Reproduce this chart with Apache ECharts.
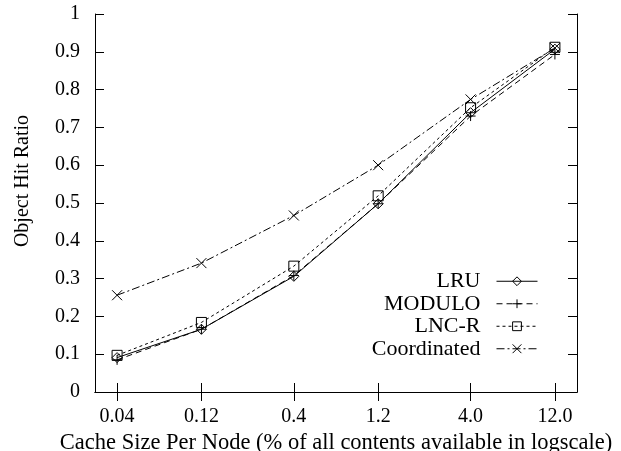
<!DOCTYPE html>
<html>
<head>
<meta charset="utf-8">
<script src="https://cdn.jsdelivr.net/npm/echarts@6/dist/echarts.min.js"></script>
<style>
html,body{margin:0;padding:0;background:#fff;}
#chart{width:621px;height:451px;}
</style>
</head>
<body>
<div id="chart"></div>
<script>
// Data
var xValues = [0.04, 0.12, 0.4, 1.2, 4.0, 12.0];
var xTickLabels = ['0.04', '0.12', '0.4', '1.2', '4.0', '12.0'];
var seriesNames = ['LRU', 'MODULO', 'LNC-R', 'Coordinated'];
var lruValues = [0.091, 0.166, 0.306, 0.498, 0.739, 0.907];
var moduloValues = [0.085, 0.166, 0.308, 0.498, 0.730, 0.893];
var lncrValues = [0.097, 0.184, 0.333, 0.519, 0.752, 0.912];
var coordinatedValues = [0.256, 0.341, 0.467, 0.600, 0.774, 0.910];
var xTitle = 'Cache Size Per Node (% of all contents available in logscale)';
var yTitle = 'Object Hit Ratio';

var FONT = 'Liberation Serif';

function pairs(vals) {
  return xValues.map(function (x, i) { return [x, vals[i]]; });
}
function fmtX(v) {
  var best = 0, bd = Infinity;
  for (var i = 0; i < xValues.length; i++) {
    var d = Math.abs(Math.log(v) - Math.log(xValues[i]));
    if (d < bd) { bd = d; best = i; }
  }
  return xTickLabels[best];
}

var plusPath = 'path://M5,0L5,10M0,5L10,5';
var crossPath = 'path://M0,0L10,10M10,0L0,10';

function mkSeries(name, vals, symbol, size, dash) {
  return {
    name: name,
    type: 'line',
    data: pairs(vals),
    symbol: symbol,
    symbolSize: size,
    showAllSymbol: true,
    silent: true,
    animation: false,
    lineStyle: { color: '#000', width: 1, type: dash },
    itemStyle: { color: 'rgba(255,255,255,0)', borderColor: '#000', borderWidth: 1 },
    emphasis: { disabled: true }
  };
}

var chart = echarts.init(document.getElementById('chart'), null, { renderer: 'canvas' });

var tickCommon = { show: true, inside: true, length: 9, lineStyle: { color: '#000', width: 1 } };

chart.setOption({
  animation: false,
  backgroundColor: '#fff',
  textStyle: { fontFamily: FONT, color: '#000' },
  grid: { left: 95, right: 44, top: 14, bottom: 59, containLabel: false, outerBoundsMode: 'none' },
  legend: {
    orient: 'vertical',
    align: 'right',
    right: 78,
    top: 265,
    itemWidth: 41,
    itemHeight: 11,
    itemGap: 0,
    selectedMode: false,
    data: seriesNames,
    lineStyle: { width: 1 },
    itemStyle: { borderWidth: 1 },
    textStyle: { fontFamily: FONT, fontSize: 22, lineHeight: 22.5, color: '#000', padding: [0, 11, 0, 0] }
  },
  xAxis: [{
    type: 'log',
    min: 0.03,
    max: 16,
    position: 'bottom',
    name: xTitle,
    nameLocation: 'middle',
    nameGap: 29,
    nameTextStyle: { fontFamily: FONT, fontSize: 22.5, color: '#000' },
    axisLine: { show: true, lineStyle: { color: '#000', width: 1 } },
    axisTick: Object.assign({ customValues: xValues }, tickCommon),
    minorTick: { show: false },
    axisLabel: {
      customValues: xValues,
      formatter: fmtX,
      margin: 15,
      fontFamily: FONT, fontSize: 20, color: '#000'
    },
    splitLine: { show: false }
  }, {
    type: 'log',
    min: 0.03,
    max: 16,
    position: 'top',
    axisLine: { show: true, lineStyle: { color: '#000', width: 1 } },
    axisTick: Object.assign({ customValues: xValues }, tickCommon),
    axisLabel: { show: false },
    splitLine: { show: false }
  }],
  yAxis: [{
    type: 'value',
    min: 0,
    max: 1,
    interval: 0.1,
    position: 'left',
    axisLine: { show: true, lineStyle: { color: '#000', width: 1 } },
    axisTick: tickCommon,
    axisLabel: { margin: 15, fontFamily: FONT, fontSize: 20, color: '#000' },
    splitLine: { show: false }
  }, {
    type: 'value',
    min: 0,
    max: 1,
    interval: 0.1,
    position: 'right',
    axisLine: { show: true, lineStyle: { color: '#000', width: 1 } },
    axisTick: tickCommon,
    axisLabel: { show: false },
    splitLine: { show: false }
  }],
  graphic: [{
    type: 'text',
    x: 23,
    y: 181,
    rotation: Math.PI / 2,
    style: {
      text: yTitle,
      fontFamily: FONT,
      fontSize: 20,
      fill: '#000',
      align: 'center',
      verticalAlign: 'middle'
    }
  }],
  series: [
    mkSeries(seriesNames[0], lruValues, 'diamond', 10, 'solid'),
    mkSeries(seriesNames[1], moduloValues, plusPath, 10, [6, 4]),
    mkSeries(seriesNames[2], lncrValues, 'rect', 10, [3, 3]),
    mkSeries(seriesNames[3], coordinatedValues, crossPath, 10, [8, 3, 2, 3])
  ]
});
</script>
</body>
</html>
